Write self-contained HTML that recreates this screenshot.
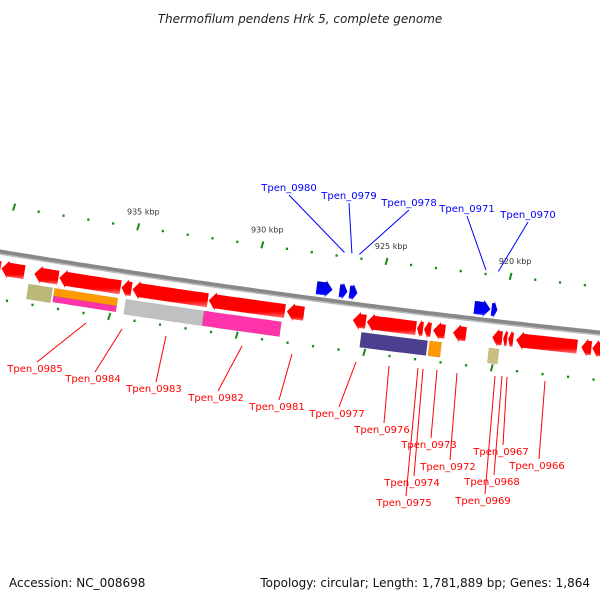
<!DOCTYPE html>
<html><head><meta charset="utf-8"><style>
body{margin:0;background:#fff;}
svg{display:block;font-family:"DejaVu Sans","Liberation Sans",sans-serif;}
</style></head><body>
<svg id="map" width="600" height="600" viewBox="0 0 600 600" xmlns="http://www.w3.org/2000/svg">
<defs>
<linearGradient id="gRed" x1="0" y1="0" x2="0" y2="1"><stop offset="0" stop-color="#d00"/><stop offset="0.15" stop-color="#f00"/><stop offset="0.75" stop-color="#f00"/><stop offset="1" stop-color="#f77"/></linearGradient>
<linearGradient id="gBlue" x1="0" y1="0" x2="0" y2="1"><stop offset="0" stop-color="#00c"/><stop offset="0.75" stop-color="#00f"/><stop offset="1" stop-color="#66f"/></linearGradient>
</defs>
<text x="300" y="23" text-anchor="middle" font-size="12" font-style="italic" fill="#222">Thermofilum pendens Hrk 5, complete genome</text>
<g id="ticks"></g>
<path id="backbone" fill="none" stroke="#888" stroke-width="5"/>
<path id="backbone2" fill="none" stroke="#bbb" stroke-width="1.5"/>
<g id="genes"></g>
<g id="labels"></g>
<text x="9" y="587" font-size="12" fill="#111">Accession: NC_008698</text>
<text x="590" y="587" text-anchor="end" font-size="12" fill="#111">Topology: circular; Length: 1,781,889 bp; Genes: 1,864</text>
</svg>
<script>
// data (kbp)
const revGenes = [[940.45,940.13],[940.09,939.17],[938.77,937.81],[937.77,935.32],[935.28,934.88],[934.84,931.83],[931.79,928.74],[928.66,927.98],[926.02,925.50],[925.46,923.49],[923.45,923.21],[923.17,922.89],[922.81,922.33],[922.01,921.49],[920.44,920.04],[920.00,919.84],[919.80,919.60],[919.48,917.04],[916.87,916.47],[916.43,916.05]];
const fwdGenes = [[927.62,926.98],[926.70,926.38],[926.30,925.98],[921.29,920.64],[920.60,920.36]];
const featStart = [938.93,937.89,937.89,935.04,931.91,925.62,922.89,920.52];
const featEnd   = [937.97,935.36,935.36,931.91,928.82,922.97,922.41,920.12];
const featColor = ['#bcb878','#ff9900','#ff33aa','#c0c0c0','#ff33aa','#4b4090','#ff9900','#c8c080'];
const featBand  = [0,1,2,0,0,0,0,0];
const majorTicks = [940,935,930,925,920];
const majorLabels = ['','935 kbp','930 kbp','925 kbp','920 kbp'];
const innerMajor = [935.6,930.51,925.42,920.32];
const blueLabels = ['Tpen_0980','Tpen_0979','Tpen_0978','Tpen_0971','Tpen_0970'];
const blueLabelPos = [[289,191],[349,199],[409,206],[467,212],[528,218]];
const blueTargets = [926.7,926.4,926.1,921.0,920.5];
const redLabels = ['Tpen_0985','Tpen_0984','Tpen_0983','Tpen_0982','Tpen_0981','Tpen_0977','Tpen_0976','Tpen_0973','Tpen_0972','Tpen_0974','Tpen_0975','Tpen_0967','Tpen_0966','Tpen_0968','Tpen_0969'];
const redLabelPos = [[35,372],[93,382],[154,392],[216,401],[277,410],[337,417],[382,433],[429,448],[448,470],[412,486],[404,506],[501,455],[537,469],[492,485],[483,504]];
const redTargets = [[86,323],[122,329],[166,336],[242,346],[292,354],[356,362],[389,366],[437,370],[457,373],[423,369],[418,368],[507,377],[545,381],[502,376],[495,376]];

const NS='http://www.w3.org/2000/svg';
function X(k){return 131+(935-k)/0.0401;}
function cy(x){return 252+0.165*x-0.00005*x*x;}
function pt(x,off){const s=0.165-0.0001*x;const n=Math.sqrt(1+s*s);return [x-s*off/n, cy(x)+off/n];}
function mk(tag,attrs,parent){const e=document.createElementNS(NS,tag);for(const k in attrs)e.setAttribute(k,attrs[k]);parent.appendChild(e);return e;}
function along(x1,x2,off){let p=[];const n=Math.max(2,Math.ceil(Math.abs(x2-x1)/4));for(let i=0;i<=n;i++){const x=x1+(x2-x1)*i/n;p.push(pt(x,off));}return p;}
function P(a){return a.map(p=>p[0].toFixed(1)+','+p[1].toFixed(1)).join(' ');}

// backbone
let bb=along(-5,605,0); document.getElementById('backbone').setAttribute('d','M'+P(bb).replace(/ /g,' L'));
let bb2=along(-5,605,2); document.getElementById('backbone2').setAttribute('d','M'+P(bb2).replace(/ /g,' L'));

const tg=document.getElementById('ticks');
for(let k=941;k>=915;k--){const x=X(k);if(majorTicks.includes(k))continue;const p=pt(x,-46);
 const d=mk('rect',{x:p[0]-1,y:p[1]-1.2,width:2.2,height:2.4,fill:'#1a8a1a'},tg);
 
 }
majorTicks.forEach((k,i)=>{const x=X(k);const a=pt(x,-50),b=pt(x,-43);
 const l=mk('line',{x1:a[0]+0.8,y1:a[1],x2:b[0]-0.3,y2:b[1],stroke:'#1a8a1a','stroke-width':2},tg);
 
 
 if(majorLabels[i]){const q=pt(x,-62);const t=mk('text',{x:q[0]+3,y:q[1]+3,'text-anchor':'middle','font-size':8,fill:'#333'},tg);t.textContent=majorLabels[i];
 
 }});
for(let i=0;i<30;i++){const k=innerMajor[0]+(4-i)*(innerMajor[0]-innerMajor[1])/5;const x=X(k);if(x<-5||x>605)continue;
 const isMaj=(i-4)%5===0;const p=pt(x,47);
 let e;
 if(isMaj){const a=pt(x,43),b=pt(x,50);e=mk('line',{x1:a[0]+0.8,y1:a[1],x2:b[0]-0.3,y2:b[1],stroke:'#1a8a1a','stroke-width':2},tg);}
 else e=mk('rect',{x:p[0]-1,y:p[1]-1.2,width:2.2,height:2.4,fill:'#1a8a1a'},tg);
 
 }

const gg=document.getElementById('genes');
function arrow(k1,k2,o1,o2,dir,fill){ // dir -1: tip at left, +1 tip at right
 let xa=X(k1),xb=X(k2);let xl=Math.min(xa,xb),xr=Math.max(xa,xb);
 const L=xr-xl;const h=Math.min(7,L*0.6);const m=(o1+o2)/2;
 let pts;
 if(dir<0){const xs=xl+h;
  pts=[pt(xl,m),pt(xs,o1-2)].concat(along(xs,xr,o1)).concat(along(xr,xs,o2)).concat([pt(xs,o2+2)]);}
 else{const xs=xr-h;
  pts=along(xl,xs,o1).concat([pt(xs,o1-2),pt(xr,m),pt(xs,o2+2)]).concat(along(xs,xl,o2));}
 return mk('polygon',{points:P(pts),fill:fill},gg);}
revGenes.forEach(g=>{const e=arrow(g[0],g[1],9,23,-1,'url(#gRed)');
 
 });
fwdGenes.forEach(g=>{const e=arrow(g[0],g[1],-18,-5,1,'url(#gBlue)');
 
 });
featStart.forEach((s,i)=>{const xl=X(s),xr=X(featEnd[i]);
 let o1=27,o2=42;if(featBand[i]===1){o1=27;o2=35;}if(featBand[i]===2){o1=35;o2=41;}
 const pts=along(xl,xr,o1).concat(along(xr,xl,o2));
 const e=mk('polygon',{points:P(pts),fill:featColor[i],stroke:'rgba(0,0,0,0.12)','stroke-width':0.6},gg);
 
 });

const lg=document.getElementById('labels');
blueLabels.forEach((s,i)=>{const [lx,ly]=blueLabelPos[i];const p=pt(X(blueTargets[i]),-50);
 const l=mk('line',{x1:lx,y1:ly+4,x2:p[0],y2:p[1],stroke:'#00f','stroke-width':1},lg);
 
 
 const t=mk('text',{x:lx,y:ly,'text-anchor':'middle','font-size':10,fill:'#00f'},lg);t.textContent=s;
 
 });
redLabels.forEach((s,i)=>{const [lx,ly]=redLabelPos[i];const [tx,ty]=redTargets[i];
 const l=mk('line',{x1:lx+2,y1:ly-10,x2:tx,y2:ty,stroke:'#f00','stroke-width':1},lg);
 
 
 const t=mk('text',{x:lx,y:ly,'text-anchor':'middle','font-size':10,fill:'#f00'},lg);t.textContent=s;
 
 });
</script>
</body></html>
